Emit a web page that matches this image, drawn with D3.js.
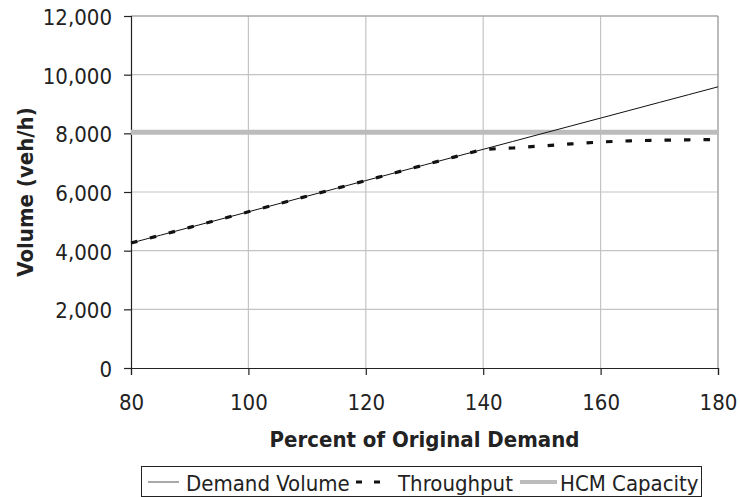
<!DOCTYPE html>
<html><head><meta charset="utf-8">
<script src="https://cdn.jsdelivr.net/npm/d3@7"></script>
<style>body{margin:0;background:#fff}svg{display:block}text{font-family:"DejaVu Sans Condensed","DejaVu Sans",sans-serif;fill:#222}</style>
</head><body>
<svg id="c" width="740" height="497"></svg>
<script>
const percent = [80,85,90,95,100,105,110,115,120,125,130,135,140,145,150,155,160,165,170,175,180];
const demandVolume = [4260,4526,4793,5059,5325,5591,5858,6124,6390,6656,6923,7189,7455,7721,7988,8254,8520,8786,9053,9319,9585];
const throughput = [4260,4526,4793,5059,5325,5591,5858,6124,6390,6656,6923,7189,7455,7500,7570,7640,7705,7745,7765,7780,7790];
const hcmCapacity = 8040;
const xTicks = [80,100,120,140,160,180];
const yTicks = [0,2000,4000,6000,8000,10000,12000];
const legendLabels = ["Demand Volume","Throughput","HCM Capacity"];

const svg = d3.select("#c");
const L=131,R=718,T=16,B=368;
const FS = "22px";
const x = d3.scaleLinear().domain([80,180]).range([L,R]);
const y = d3.scaleLinear().domain([0,12000]).range([B,T]);

// grid
svg.append("g").selectAll("line").data(yTicks.slice(1)).join("line")
  .attr("x1",L).attr("x2",R).attr("y1",d=>y(d)).attr("y2",d=>y(d))
  .attr("stroke","#c4c4c4").attr("stroke-width",1.2);
svg.append("g").selectAll("line").data(xTicks.slice(1)).join("line")
  .attr("y1",T).attr("y2",B).attr("x1",d=>x(d)).attr("x2",d=>x(d))
  .attr("stroke","#c4c4c4").attr("stroke-width",1.2);
svg.append("line").attr("x1",L).attr("x2",R).attr("y1",T).attr("y2",T).attr("stroke","#999");
svg.append("line").attr("x1",R).attr("x2",R).attr("y1",T).attr("y2",B).attr("stroke","#999");

// axes
const fmt = d3.format(",");
const yAxis = svg.append("g").attr("transform",`translate(${L},0)`)
  .call(d3.axisLeft(y).tickValues(yTicks).tickFormat(fmt).tickSize(7).tickPadding(12));
const xAxis = svg.append("g").attr("transform",`translate(0,${B})`)
  .call(d3.axisBottom(x).tickValues(xTicks).tickSize(7).tickPadding(14));
[yAxis,xAxis].forEach(a=>{
  a.select(".domain").attr("stroke","#222").attr("stroke-width",1.2);
  a.selectAll(".tick line").attr("stroke","#222").attr("stroke-width",1.2);
  a.selectAll(".tick text").style("font-size",FS).attr("fill","#222");
});
xAxis.selectAll(".tick text").attr("dy",null).attr("y",null).attr("transform","translate(0,42)");
yAxis.selectAll(".tick text").attr("dy","0.38em");

// HCM capacity
svg.append("line").attr("x1",L).attr("x2",R).attr("y1",y(hcmCapacity)).attr("y2",y(hcmCapacity))
  .attr("stroke","#bcbcbc").attr("stroke-width",5);

const line = d3.line().x((d,i)=>x(percent[i])).y(d=>y(d));
svg.append("path").datum(demandVolume).attr("d",line).attr("fill","none")
  .attr("stroke","#111").attr("stroke-width",1);
svg.append("path").datum(throughput).attr("d",line).attr("fill","none")
  .attr("stroke","#111").attr("stroke-width",3.2).attr("stroke-dasharray","6.5,13");

// axis titles
svg.append("text").attr("x",(L+R)/2).attr("y",447).attr("text-anchor","middle")
  .style("font-size",FS).style("font-weight","bold").text("Percent of Original Demand");
svg.append("text").attr("transform",`translate(33,${(T+B)/2}) rotate(-90)`).attr("text-anchor","middle")
  .style("font-size",FS).style("font-weight","bold").text("Volume (veh/h)");

// legend
const lg = svg.append("g");
lg.append("rect").attr("x",141.5).attr("y",466.5).attr("width",560).attr("height",30)
  .attr("fill","#fff").attr("stroke","#222").attr("stroke-width",1);
const ly = 482, ty = 491;
lg.append("line").attr("x1",148).attr("x2",179).attr("y1",ly).attr("y2",ly).attr("stroke","#555").attr("stroke-width",1);
lg.append("text").attr("x",186).attr("y",ty).style("font-size",FS).text(legendLabels[0]);
lg.append("line").attr("x1",356).attr("x2",388).attr("y1",ly).attr("y2",ly).attr("stroke","#111").attr("stroke-width",3.2).attr("stroke-dasharray","6,12");
lg.append("text").attr("x",398).attr("y",ty).style("font-size",FS).text(legendLabels[1]);
lg.append("line").attr("x1",520).attr("x2",557).attr("y1",ly).attr("y2",ly).attr("stroke","#bcbcbc").attr("stroke-width",4);
lg.append("text").attr("x",560).attr("y",ty).style("font-size",FS).text(legendLabels[2]);
</script>
</body></html>
